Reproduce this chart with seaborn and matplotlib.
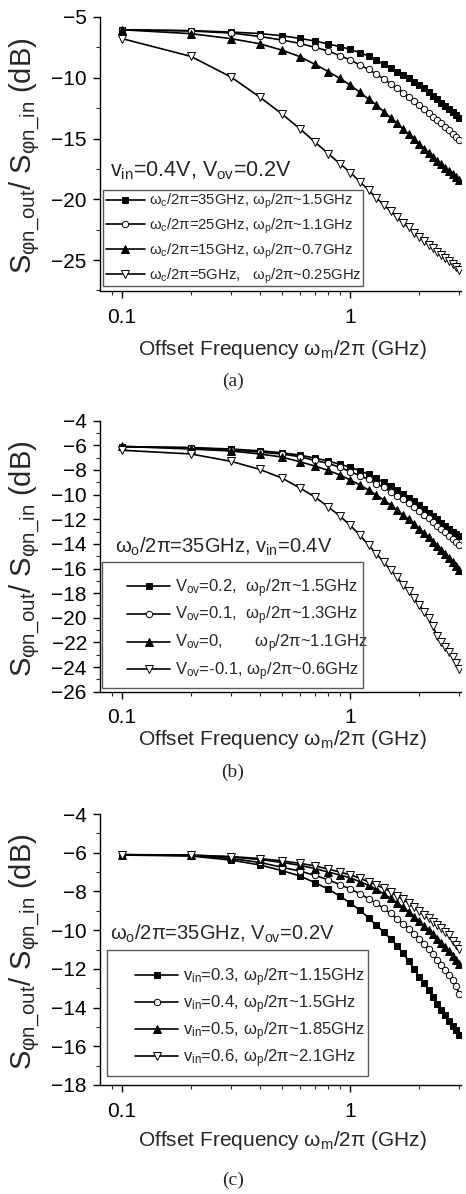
import matplotlib
matplotlib.use("Agg")
import matplotlib.pyplot as plt
import seaborn as sns
import pandas as pd
from matplotlib.patches import Rectangle
from matplotlib.ticker import FixedLocator, NullFormatter, MultipleLocator

# ---------------- data ----------------
freq = [0.1, 0.2, 0.3, 0.4, 0.5, 0.6, 0.7, 0.8, 0.9, 1.0,
        1.1, 1.2, 1.3, 1.4, 1.5, 1.6, 1.7, 1.8, 1.9, 2.0,
        2.1, 2.2, 2.3, 2.4, 2.5, 2.6, 2.7, 2.8, 2.9, 3.0]

# panel (a): vin=0.4V, Vov=0.2V
a_wc35 = [-6.05, -6.12, -6.24, -6.36, -6.54, -6.76, -6.98, -7.22, -7.44, -7.66,
          -7.94, -8.21, -8.54, -8.90, -9.22, -9.52, -9.80, -10.06, -10.33, -10.60,
          -10.88, -11.18, -11.48, -11.78, -12.06, -12.34, -12.60, -12.85, -13.08, -13.30]
a_wc25 = [-6.05, -6.15, -6.32, -6.60, -6.89, -7.17, -7.50, -7.80, -8.18, -8.54,
          -8.95, -9.31, -9.72, -10.10, -10.51, -10.87, -11.23, -11.56, -11.91, -12.24,
          -12.57, -12.87, -13.20, -13.48, -13.75, -14.02, -14.30, -14.60, -14.85, -15.15]
a_wc15 = [-6.05, -6.37, -6.78, -7.20, -7.72, -8.26, -8.90, -9.50, -10.05, -10.62,
          -11.20, -11.75, -12.24, -12.79, -13.29, -13.75, -14.22, -14.66, -15.04, -15.45,
          -15.85, -16.20, -16.52, -16.83, -17.12, -17.40, -17.67, -17.92, -18.17, -18.42]
a_wc5 = [-6.78, -8.24, -9.94, -11.58, -12.96, -14.19, -15.30, -16.25, -17.08, -17.80,
         -18.55, -19.24, -19.90, -20.47, -20.97, -21.48, -21.92, -22.32, -22.74, -23.08,
         -23.42, -23.76, -24.05, -24.32, -24.60, -24.86, -25.09, -25.33, -25.56, -25.80]
a_labels = ["ω$_c$/2π=35GHz, ω$_p$/2π~1.5GHz",
            "ω$_c$/2π=25GHz, ω$_p$/2π~1.1GHz",
            "ω$_c$/2π=15GHz, ω$_p$/2π~0.7GHz",
            "ω$_c$/2π=5GHz,   ω$_p$/2π~0.25GHz"]

# panel (b): wo/2pi=35GHz, vin=0.4V
b_ov02 = [-6.10, -6.18, -6.30, -6.44, -6.60, -6.79, -7.04, -7.27, -7.54, -7.79,
          -8.06, -8.36, -8.68, -9.00, -9.30, -9.63, -9.95, -10.25, -10.53, -10.85,
          -11.16, -11.46, -11.74, -12.01, -12.28, -12.55, -12.80, -13.05, -13.22, -13.38]
b_ov01 = [-6.12, -6.20, -6.36, -6.55, -6.71, -6.92, -7.23, -7.46, -7.79, -8.14,
          -8.46, -8.76, -9.12, -9.41, -9.76, -10.09, -10.38, -10.71, -11.03, -11.33,
          -11.66, -11.93, -12.25, -12.52, -12.80, -13.07, -13.36, -13.63, -13.88, -14.12]
b_ov00 = [-6.08, -6.30, -6.46, -6.70, -6.95, -7.33, -7.68, -8.04, -8.41, -8.82,
          -9.22, -9.63, -10.03, -10.44, -10.85, -11.25, -11.66, -12.01, -12.41, -12.78,
          -13.13, -13.48, -13.82, -14.15, -14.47, -14.80, -15.12, -15.45, -15.77, -16.10]
b_ovm01 = [-6.40, -6.70, -7.30, -7.95, -8.65, -9.45, -10.20, -11.00, -11.75, -12.50,
           -13.30, -14.10, -14.80, -15.50, -16.10, -16.70, -17.30, -17.85, -18.40, -18.95,
           -19.50, -20.05, -20.70, -21.50, -22.00, -22.35, -22.75, -23.20, -23.65, -24.15]
b_labels = ["V$_{ov}$=0.2,  ω$_p$/2π~1.5GHz",
            "V$_{ov}$=0.1,  ω$_p$/2π~1.3GHz",
            "V$_{ov}$=0,       ω$_p$/2π~1.1GHz",
            "V$_{ov}$=-0.1, ω$_p$/2π~0.6GHz"]

# panel (c): wo/2pi=35GHz, Vov=0.2V
c_in03 = [-6.12, -6.17, -6.38, -6.63, -6.92, -7.20, -7.55, -7.88, -8.25, -8.60,
          -8.97, -9.36, -9.75, -10.10, -10.45, -10.80, -11.20, -11.60, -12.00, -12.40,
          -12.75, -13.10, -13.45, -13.80, -14.10, -14.40, -14.70, -14.95, -15.15, -15.42]
c_in04 = [-6.10, -6.15, -6.30, -6.50, -6.75, -6.95, -7.17, -7.40, -7.65, -7.88,
          -8.12, -8.37, -8.62, -8.88, -9.14, -9.40, -9.66, -9.92, -10.18, -10.45,
          -10.72, -10.98, -11.25, -11.52, -11.78, -12.05, -12.32, -12.60, -12.90, -13.30]
c_in05 = [-6.10, -6.13, -6.22, -6.35, -6.50, -6.65, -6.82, -7.00, -7.15, -7.30,
          -7.50, -7.68, -7.90, -8.12, -8.35, -8.58, -8.82, -9.05, -9.30, -9.55,
          -9.78, -10.00, -10.22, -10.44, -10.66, -10.88, -11.10, -11.33, -11.55, -11.77]
c_in06 = [-6.10, -6.12, -6.20, -6.30, -6.42, -6.55, -6.68, -6.85, -7.00, -7.15,
          -7.32, -7.50, -7.67, -7.84, -8.01, -8.24, -8.41, -8.61, -8.82, -8.99,
          -9.22, -9.39, -9.56, -9.73, -9.90, -10.08, -10.25, -10.55, -10.75, -10.95]
c_labels = ["v$_{in}$=0.3, ω$_p$/2π~1.15GHz",
            "v$_{in}$=0.4, ω$_p$/2π~1.5GHz",
            "v$_{in}$=0.5, ω$_p$/2π~1.85GHz",
            "v$_{in}$=0.6, ω$_p$/2π~2.1GHz"]

# ---------------- style ----------------
sns.set_theme(style="ticks")
plt.rcParams["font.family"] = ["Liberation Sans", "DejaVu Sans"]
plt.rcParams["mathtext.fontset"] = "custom"
plt.rcParams["mathtext.rm"] = "Liberation Sans"
plt.rcParams["mathtext.it"] = "Liberation Sans"
plt.rcParams["mathtext.default"] = "regular"

W, H = 466, 1194
fig = plt.figure(figsize=(W / 100, H / 100), dpi=100)


def fx(px):
    return px / W


def fy(py):
    return 1 - py / H


markers = [dict(marker="s", mfc="black", ms=4.3),
           dict(marker="o", mfc="white", ms=4.6),
           dict(marker="^", mfc="black", ms=5.2),
           dict(marker="v", mfc="white", ms=5.2)]

panels = [
    dict(series=[a_wc35, a_wc25, a_wc15, a_wc5], labels=a_labels,
         top=17, bot=291, ylim=(-27.55, -5), major=5, minor=2.5,
         note="v$_{in}$=0.4V, V$_{ov}$=0.2V", note_xy=(110, 176), note_fs=15.5,
         box=(103, 190, 363, 286), leg_xy=(106, 192), leg_fs=10.7, leg_sp=0.37,
         xlab_y=355, cap="(a)", cap_y=381),
    dict(series=[b_ov02, b_ov01, b_ov00, b_ovm01], labels=b_labels,
         top=420.7, bot=691.7, ylim=(-26, -4), major=2, minor=1,
         note="ω$_o$/2π=35GHz, v$_{in}$=0.4V", note_xy=(115, 553), note_fs=14.5,
         box=(102, 562, 363, 688), leg_xy=(127, 577), leg_fs=12, leg_sp=0.31,
         xlab_y=745, cap="(b)", cap_y=772),
    dict(series=[c_in03, c_in04, c_in05, c_in06], labels=c_labels,
         top=814, bot=1085, ylim=(-18, -4), major=2, minor=1,
         note="ω$_o$/2π=35GHz, V$_{ov}$=0.2V", note_xy=(110, 940), note_fs=14.5,
         box=(107, 950, 368, 1076), leg_xy=(135, 966), leg_fs=12, leg_sp=0.27,
         xlab_y=1146, cap="(c)", cap_y=1180),
]

for p in panels:
    ax = fig.add_axes([fx(100), fy(p["bot"]), fx(361), (p["bot"] - p["top"]) / H])
    for vals, lab, mk in zip(p["series"], p["labels"], markers):
        df = pd.DataFrame({"freq": freq, "val": vals})
        sns.lineplot(data=df, x="freq", y="val", ax=ax, color="black", lw=1.2,
                     marker=mk["marker"], markersize=mk["ms"],
                     markerfacecolor=mk["mfc"], markeredgecolor="black",
                     markeredgewidth=0.7, label=lab, legend=False)
    ax.set_xscale("log")
    ax.set_xlim(0.08, 3.05)
    ax.set_ylim(*p["ylim"])
    ax.xaxis.set_major_locator(FixedLocator([0.1, 1]))
    ax.set_xticklabels(["0.1", "1"])
    ax.xaxis.set_minor_locator(FixedLocator([0.09, 0.2, 0.3, 0.4, 0.5, 0.6, 0.7,
                                             0.8, 0.9, 2, 3]))
    ax.xaxis.set_minor_formatter(NullFormatter())
    ax.yaxis.set_major_locator(MultipleLocator(p["major"]))
    ax.yaxis.set_minor_locator(MultipleLocator(p["minor"]))
    ax.tick_params(which="major", direction="out", length=5, width=1,
                   labelsize=15, colors="black")
    ax.tick_params(axis="y", which="major", pad=4.5)
    ax.tick_params(axis="x", which="major", pad=7)
    ax.tick_params(which="minor", direction="out", length=3, width=0.8)
    for s in ["top", "right"]:
        ax.spines[s].set_visible(False)
    for s in ["left", "bottom"]:
        ax.spines[s].set_color("black")
        ax.spines[s].set_linewidth(1.0)
    ax.set_xlabel("")
    ax.set_ylabel("")
    ax.set_facecolor("white")

    h, l = ax.get_legend_handles_labels()
    ax.legend(h, l, loc="upper left",
              bbox_to_anchor=(fx(p["leg_xy"][0]), fy(p["leg_xy"][1])),
              bbox_transform=fig.transFigure, fontsize=p["leg_fs"],
              frameon=False, borderpad=0, labelspacing=p["leg_sp"],
              handlelength=2.6, handletextpad=0.3, borderaxespad=0, numpoints=1)

    x0, y0, x1, y1 = p["box"]
    fig.add_artist(Rectangle((fx(x0), fy(y1)), fx(x1 - x0), (y1 - y0) / H,
                             transform=fig.transFigure, fill=False,
                             edgecolor="0.35", linewidth=1.0))

    fig.text(fx(p["note_xy"][0]), fy(p["note_xy"][1]), p["note"],
             fontsize=p["note_fs"], ha="left", va="baseline")
    ymid = (p["top"] + p["bot"]) / 2
    fig.text(fx(25), fy(ymid + 2), "S$_{φn\\_out}$/ S$_{φn\\_in}$ (dB)",
             fontsize=21, rotation=90, ha="center", va="center")
    fig.text(fx(283), fy(p["xlab_y"]), "Offset Frequency ω$_m$/2π (GHz)",
             fontsize=15, ha="center", va="baseline")
    fig.text(fx(233), fy(p["cap_y"]), p["cap"], fontsize=14,
             family="Liberation Serif", ha="center", va="center")

fig.savefig("out.png", dpi=100, facecolor="white")
